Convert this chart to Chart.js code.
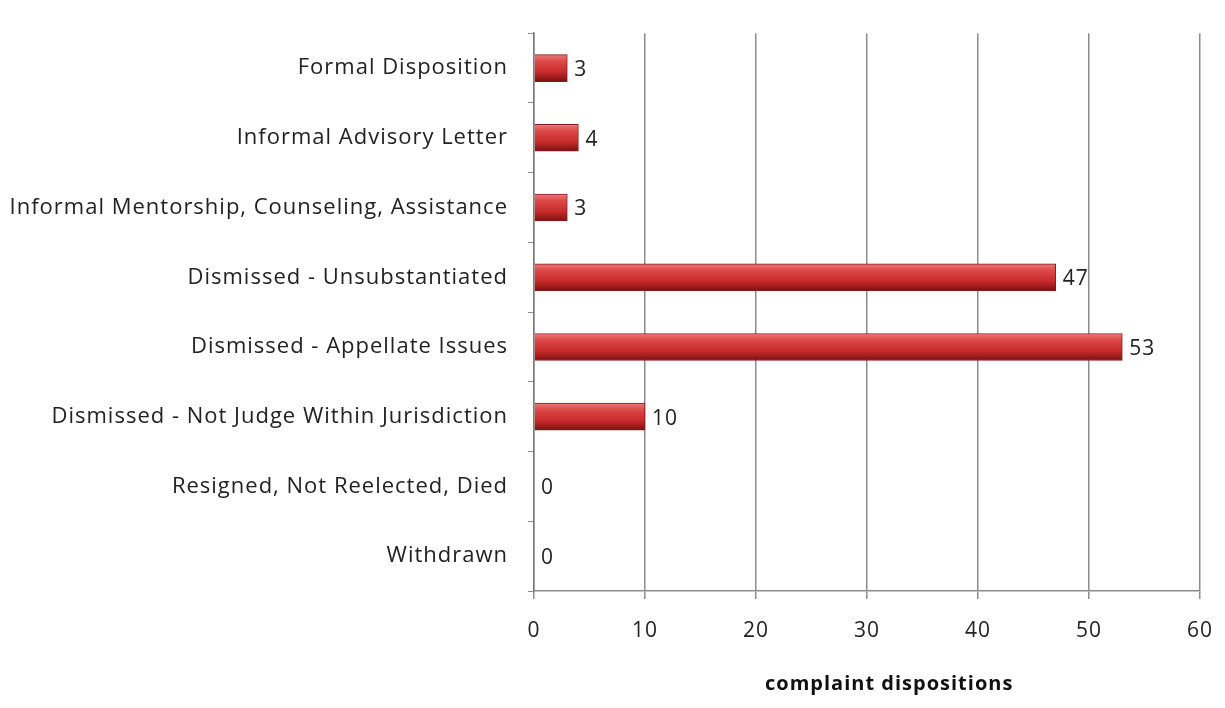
<!DOCTYPE html>
<html>
<head>
<meta charset="utf-8">
<script src="https://cdn.jsdelivr.net/npm/chart.js@4/dist/chart.umd.min.js"></script>
<style>
  html, body { margin: 0; padding: 0; background: #ffffff; }
  #wrap { width: 1225px; height: 708px; }
</style>
</head>
<body>
<div id="wrap"><canvas id="dispChart" width="1225" height="708"></canvas></div>
<script>
// categories and values, top to bottom as in the picture
const categories = [
    'Formal Disposition',
    'Informal Advisory Letter',
    'Informal Mentorship, Counseling, Assistance',
    'Dismissed - Unsubstantiated',
    'Dismissed - Appellate Issues',
    'Dismissed - Not Judge Within Jurisdiction',
    'Resigned, Not Reelected, Died',
    'Withdrawn'
];
const dispositions = [3, 4, 3, 47, 53, 10, 0, 0];
const xTicks = [0, 10, 20, 30, 40, 50, 60];
const xTitle = 'complaint dispositions';

const FONT = '"Open Sans", Lato, sans-serif';
const BAR_THICK = 27;

// glossy red gradient across the bar thickness
function barFill(context) {
    const chart = context.chart;
    const yScale = chart.scales.y;
    if (!chart.chartArea || !yScale || context.dataIndex === undefined) return '#c62828';
    const cy = yScale.getPixelForValue(context.dataIndex);
    if (!isFinite(cy)) return '#c62828';
    const g = chart.ctx.createLinearGradient(0, cy - BAR_THICK / 2, 0, cy + BAR_THICK / 2);
    g.addColorStop(0, '#eb7a7a');
    g.addColorStop(0.25, '#dc4848');
    g.addColorStop(0.65, '#c82a2a');
    g.addColorStop(1, '#7c1010');
    return g;
}

// the original text is a bit wider than our fonts, so space the letters out
const wideText = {
    id: 'wideText',
    beforeUpdate(chart) { chart.ctx.letterSpacing = '1px'; },
    beforeDraw(chart) { chart.ctx.letterSpacing = '1px'; }
};

// value labels at the end of each bar, plus the axis title (sits a bit right of centre)
const valueLabels = {
    id: 'valueLabels',
    afterDatasetsDraw(chart) {
        const ctx = chart.ctx;
        const meta = chart.getDatasetMeta(0);
        ctx.save();
        ctx.font = '21px ' + FONT;
        ctx.fillStyle = '#222';
        ctx.textAlign = 'left';
        ctx.textBaseline = 'middle';
        meta.data.forEach((bar, i) => {
            ctx.fillText(String(dispositions[i]), bar.x + 7, bar.y + 2);
        });
        ctx.restore();
    },
    afterDraw(chart) {
        const ctx = chart.ctx;
        const x = chart.scales.x;
        ctx.save();
        ctx.font = 'bold 20px ' + FONT;
        ctx.fillStyle = '#111';
        ctx.textAlign = 'center';
        ctx.textBaseline = 'middle';
        ctx.fillText(xTitle, x.getPixelForValue(32), x.bottom - 18);
        ctx.restore();
    }
};

const ctx = document.getElementById('dispChart').getContext('2d');

const dispChart = new Chart(ctx, {
    type: 'bar',
    data: {
        labels: categories,
        datasets: [{
            label: xTitle,
            data: dispositions,
            backgroundColor: barFill,
            borderColor: '#8a1a1a',
            borderWidth: 1,
            borderSkipped: 'left',
            barThickness: BAR_THICK
        }]
    },
    options: {
        indexAxis: 'y',
        responsive: false,
        animation: false,
        layout: { padding: { top: 31, right: 25, bottom: 6, left: 0 } },
        plugins: {
            legend: { display: false },
            tooltip: { enabled: false }
        },
        scales: {
            x: {
                min: 0,
                max: 60,
                afterBuildTicks(scale) {
                    scale.ticks = xTicks.map(v => ({ value: v }));
                },
                grid: {
                    color: '#8c8c8c',
                    lineWidth: 1.5,
                    tickLength: 8
                },
                border: { color: '#8c8c8c', width: 1.5 },
                ticks: {
                    color: '#222',
                    font: { family: FONT, size: 21 },
                    padding: 19
                },
                title: { display: false },
                afterFit(scale) {
                    scale.height = 111;
                    scale.paddingLeft = 0;
                    scale.paddingRight = 0;
                }
            },
            y: {
                grid: {
                    drawOnChartArea: false,
                    offset: true,
                    color: '#8c8c8c',
                    tickLength: 6
                },
                border: { color: '#7a7a7a', width: 1.5 },
                ticks: {
                    color: '#222',
                    font: { family: FONT, size: 22 },
                    padding: 20
                },
                afterFit(scale) { scale.width = 534; }
            }
        }
    },
    plugins: [wideText, valueLabels]
});
</script>
</body>
</html>
